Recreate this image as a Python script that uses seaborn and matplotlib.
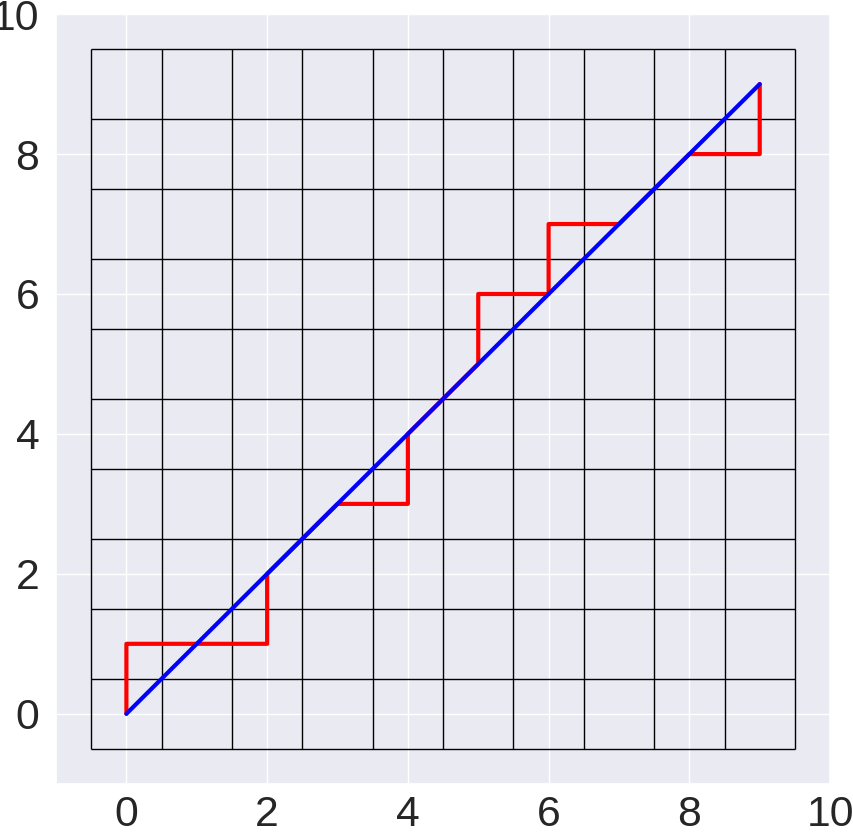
import numpy as np
import pandas as pd
import matplotlib
matplotlib.use("Agg")
import matplotlib.pyplot as plt
import seaborn as sns

# cell boundaries of the cost grid
grid_edges = [-0.5, 0.5, 1.5, 2.5, 3.5, 4.5, 5.5, 6.5, 7.5, 8.5, 9.5]

# warping path (red)
path_x = [0, 0, 1, 2, 2, 3, 4, 4, 5, 5, 6, 6, 7, 8, 9, 9]
path_y = [0, 1, 1, 1, 2, 3, 3, 4, 5, 6, 6, 7, 7, 8, 8, 9]

# diagonal (blue)
diag_x = [0, 9]
diag_y = [0, 9]

ticks = [0, 2, 4, 6, 8, 10]

sns.set_theme(style="darkgrid", font_scale=2.8)
plt.rcParams['font.family'] = ['Liberation Sans', 'DejaVu Sans']

fig, ax = plt.subplots(figsize=(8.54, 8.32), dpi=100)

ax.vlines(grid_edges, grid_edges[0], grid_edges[-1], colors="black", linewidth=1)
ax.hlines(grid_edges, grid_edges[0], grid_edges[-1], colors="black", linewidth=1)

path = pd.DataFrame({"x": path_x, "y": path_y})
diag = pd.DataFrame({"x": diag_x, "y": diag_y})
sns.lineplot(data=path, x="x", y="y", sort=False, estimator=None,
             color="red", linewidth=3, ax=ax)
sns.lineplot(data=diag, x="x", y="y", sort=False, estimator=None,
             color="blue", linewidth=3, ax=ax)

ax.set_xlim(-1, 10)
ax.set_ylim(-1, 10)
ax.set_xticks(ticks)
ax.set_yticks(ticks)
ax.set_xlabel("")
ax.set_ylabel("")
ax.tick_params(axis="x", pad=2)
ax.tick_params(axis="y", pad=6)

fig.subplots_adjust(left=0.0656, right=0.972, bottom=0.058, top=0.983)
fig.savefig("out.png", dpi=100)
